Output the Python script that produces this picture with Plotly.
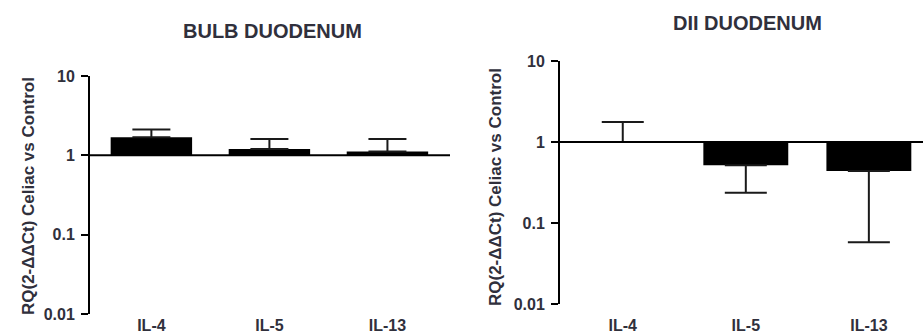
import plotly.graph_objects as go

# ---- data ----
categories = ["IL-4", "IL-5", "IL-13"]

bulb_values = [1.69, 1.20, 1.12]
bulb_err_plus = [0.42, 0.41, 0.49]
bulb_err_minus = [0.0, 0.0, 0.0]

dii_values = [1.0, 0.515, 0.44]
dii_err_plus = [0.77, 0.0, 0.0]
dii_err_minus = [0.0, 0.278, 0.382]

y_tickvals = [0.01, 0.1, 1, 10]
y_ticktext = ["0.01", "0.1", "1", "10"]

panel_titles = ["BULB DUODENUM", "DII DUODENUM"]
y_title = "RQ(2-ΔΔCt) Celiac vs Control"

# ---- style ----
W, H = 923, 334
FONT = "Liberation Sans, Arial, sans-serif"
TXT = "#30303c"

fig = go.Figure()


def add_panel(fig, vals, ep, em, xa, ya, capw):
    fig.add_trace(go.Bar(
        x=categories, y=[v - 1 for v in vals], base=[1] * len(vals),
        width=0.69, marker=dict(color="black", line=dict(width=0)),
        xaxis=xa, yaxis=ya, showlegend=False, hoverinfo="skip"))
    fig.add_trace(go.Scatter(
        x=categories, y=vals, mode="markers",
        marker=dict(size=1, color="rgba(0,0,0,0)"),
        error_y=dict(type="data", symmetric=False, array=ep, arrayminus=em,
                     thickness=2, width=capw, color="#1a1a1a"),
        xaxis=xa, yaxis=ya, showlegend=False, hoverinfo="skip"))


add_panel(fig, bulb_values, bulb_err_plus, bulb_err_minus, "x", "y", 19)
add_panel(fig, dii_values, dii_err_plus, dii_err_minus, "x2", "y2", 21)

yax_common = dict(
    type="log", range=[-2, 1], tickvals=y_tickvals, ticktext=y_ticktext,
    showline=True, linewidth=2, linecolor="black", ticks="outside",
    ticklen=7, tickwidth=2, tickcolor="black", showgrid=False, zeroline=False,
    tickfont=dict(family=FONT, size=16, color=TXT, weight="bold"),
    ticklabelstandoff=3, automargin=False,
)
xax_common = dict(
    type="category", showline=False, showgrid=False, zeroline=False, ticks="",
    tickfont=dict(family=FONT, size=16, color=TXT, weight="bold"),
    automargin=False,
)

fig.update_layout(
    template="none",
    width=W, height=H, margin=dict(l=0, r=0, t=0, b=0, pad=0), autosize=False,
    paper_bgcolor="white", plot_bgcolor="white",
    xaxis=dict(domain=[90 / W, 450 / W], range=[-0.52, 2.53], anchor="y",
               ticklabelstandoff=0, **xax_common),
    yaxis=dict(domain=[1 - 314 / H, 1 - 76 / H], anchor="x", **yax_common),
    xaxis2=dict(domain=[560 / W, 1.0], range=[-0.51, 2.44], anchor="y2",
                ticklabelstandoff=10, **xax_common),
    yaxis2=dict(domain=[1 - 304 / H, 1 - 61 / H], anchor="x2", **yax_common),
    showlegend=False,
    shapes=[
        dict(type="line", xref="x domain", yref="y", x0=0, x1=1, y0=1, y1=1,
             line=dict(color="black", width=2)),
        dict(type="line", xref="x2 domain", yref="y2", x0=0, x1=1, y0=1, y1=1,
             line=dict(color="black", width=2)),
    ],
    annotations=[
        dict(text=panel_titles[0], x=272 / W, y=1 - 31 / H, xref="paper", yref="paper",
             showarrow=False, xanchor="center", yanchor="middle",
             font=dict(family=FONT, size=20, color=TXT, weight="bold")),
        dict(text=panel_titles[1], x=747 / W, y=1 - 23 / H, xref="paper", yref="paper",
             showarrow=False, xanchor="center", yanchor="middle",
             font=dict(family=FONT, size=20, color=TXT, weight="bold")),
        dict(text=y_title, x=28 / W, y=1 - 196 / H, xref="paper", yref="paper",
             showarrow=False, textangle=-90, xanchor="center", yanchor="middle",
             font=dict(family=FONT, size=17, color=TXT, weight="bold")),
        dict(text=y_title, x=495 / W, y=1 - 187 / H, xref="paper", yref="paper",
             showarrow=False, textangle=-90, xanchor="center", yanchor="middle",
             font=dict(family=FONT, size=17, color=TXT, weight="bold")),
    ],
)

fig.write_html(
    "out.html",
    config={"displayModeBar": False},
    post_script="document.body.style.margin='0px';document.body.style.overflow='hidden';",
)
